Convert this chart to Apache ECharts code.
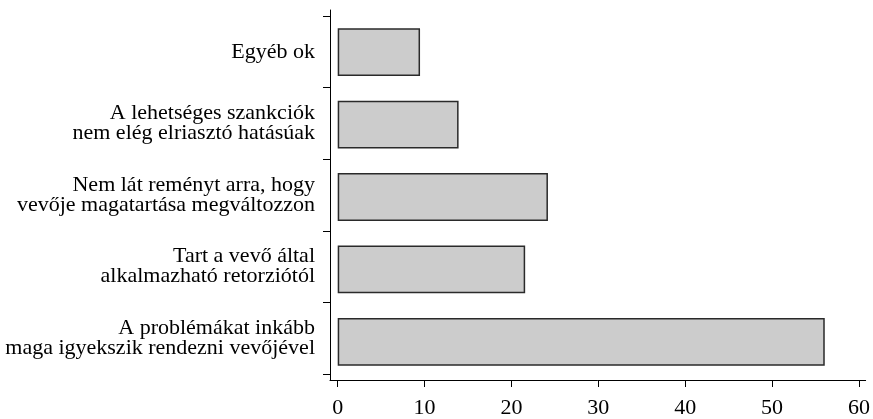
<!DOCTYPE html>
<html>
<head>
<meta charset="utf-8">
<script src="https://cdn.jsdelivr.net/npm/echarts@6/dist/echarts.min.js"></script>
<style>
  html, body { margin: 0; padding: 0; background: #fff; }
  #main { width: 873px; height: 419px; }
</style>
</head>
<body>
<div id="main"></div>
<script>
// categories listed bottom to top (category axis starts at the bottom)
var categories = [
    'A problémákat inkább\nmaga igyekszik rendezni vevőjével',
    'Tart a vevő által\nalkalmazható retorziótól',
    'Nem lát reményt arra, hogy\nvevője magatartása megváltozzon',
    'A lehetséges szankciók\nnem elég elriasztó hatásúak',
    'Egyéb ok'
];
var values = [55.6, 21.4, 24.0, 13.8, 9.4];
var xTicks = [0, 10, 20, 30, 40, 50, 60];

var font = 'Liberation Serif, Times New Roman, serif';

// category slots on the frame axis: ticks on slot edges, labels on slot centres
var catIdx = categories.map(function (c, i) { return i; });
var catEdges = [-0.5].concat(catIdx.map(function (i) { return i + 0.5; }));

var myChart = echarts.init(document.getElementById('main'));
var option = {
    animation: false,
    grid: [
        // data area (bars)
        { left: 337.7, right: 9.7, top: 16, bottom: 41 },
        // frame with the axes, a little wider than the data area
        { left: 330, right: 3, top: 10, bottom: 33 }
    ],
    xAxis: [
        {
            gridIndex: 0,
            type: 'value',
            min: xTicks[0],
            max: xTicks[xTicks.length - 1],
            show: false
        },
        {
            gridIndex: 1,
            type: 'value',
            min: -0.879,
            max: 60.765,
            axisLine: { show: true, onZero: false, lineStyle: { color: '#000', width: 1 } },
            axisTick: { show: true, length: 7, customValues: xTicks, lineStyle: { color: '#000', width: 1 } },
            axisLabel: { color: '#000', fontFamily: font, fontSize: 22, margin: 17, customValues: xTicks },
            splitLine: { show: false }
        }
    ],
    yAxis: [
        {
            gridIndex: 0,
            type: 'category',
            data: categories,
            show: false
        },
        {
            gridIndex: 1,
            type: 'value',
            min: -0.583,
            max: 4.583,
            axisLine: { show: true, onZero: false, lineStyle: { color: '#000', width: 1 } },
            axisTick: { show: true, length: 7, customValues: catEdges, lineStyle: { color: '#000', width: 1 } },
            axisLabel: {
                color: '#000',
                fontFamily: font,
                fontSize: 22,
                lineHeight: 20,
                margin: 15,
                align: 'right',
                customValues: catIdx,
                formatter: function (v) { return categories[Math.round(v)]; }
            },
            splitLine: { show: false }
        }
    ],
    series: [
        {
            type: 'bar',
            xAxisIndex: 0,
            yAxisIndex: 0,
            data: values,
            barWidth: '66%',
            itemStyle: {
                color: '#cccccc',
                borderColor: '#2a2a2a',
                borderWidth: 1.5
            }
        }
    ]
};
myChart.setOption(option);
</script>
</body>
</html>
